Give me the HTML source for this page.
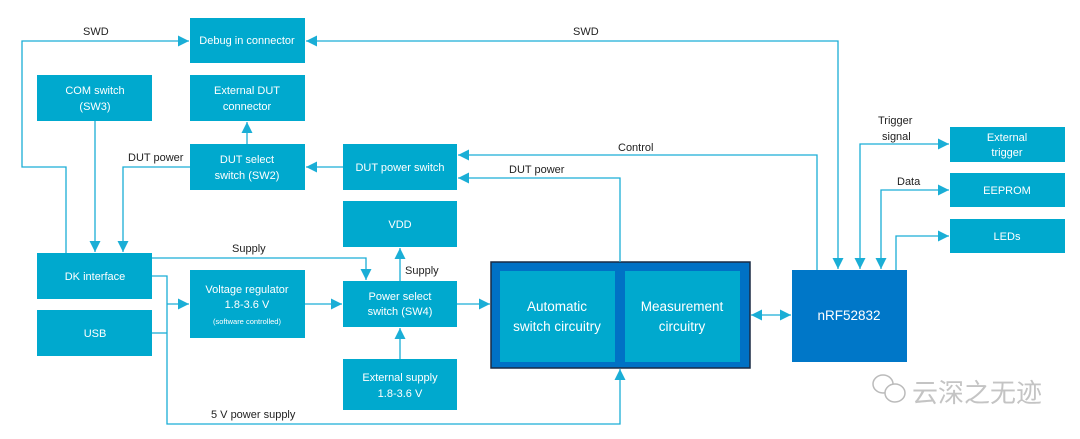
<!DOCTYPE html>
<html><head><meta charset="utf-8"><style>
html,body{margin:0;padding:0;background:#fff;width:1080px;height:439px;overflow:hidden}
svg{display:block}
text{font-family:"Liberation Sans","Noto Sans CJK SC",sans-serif}
.b{fill:#00a9ce}
.w{fill:#fff;font-size:11px;text-anchor:middle}
.k{fill:#222;font-size:11px}
.l{stroke:#1aaed6;stroke-width:1.3;fill:none}
.a{fill:#1aaed6}
</style></head><body>
<svg width="1080" height="439" viewBox="0 0 1080 439">
<defs>
<marker id="m" viewBox="0 0 10 10" refX="10" refY="5" markerWidth="11" markerHeight="11" markerUnits="userSpaceOnUse" orient="auto"><path d="M0,0L10,5L0,10z" class="a"/></marker>
<marker id="s" viewBox="0 0 10 10" refX="0" refY="5" markerWidth="11" markerHeight="11" markerUnits="userSpaceOnUse" orient="auto"><path d="M10,0L0,5L10,10z" class="a"/></marker>
</defs>
<rect class="b" x="190" y="18" width="115" height="45"/>
<text class="w" x="247" y="44">Debug in connector</text>
<rect class="b" x="37" y="75" width="115" height="46"/>
<text class="w" x="95" y="94">COM switch</text><text class="w" x="95" y="110">(SW3)</text>
<rect class="b" x="190" y="75" width="115" height="46"/>
<text class="w" x="247" y="94">External DUT</text><text class="w" x="247" y="110">connector</text>
<rect class="b" x="190" y="144" width="115" height="46"/>
<text class="w" x="247" y="163">DUT select</text><text class="w" x="247" y="179">switch (SW2)</text>
<rect class="b" x="343" y="144" width="114" height="46"/>
<text class="w" x="400" y="171">DUT power switch</text>
<rect class="b" x="343" y="201" width="114" height="46"/>
<text class="w" x="400" y="228">VDD</text>
<rect class="b" x="37" y="253" width="115" height="46"/>
<text class="w" x="95" y="280">DK interface</text>
<rect class="b" x="37" y="310" width="115" height="46"/>
<text class="w" x="95" y="337">USB</text>
<rect class="b" x="190" y="270" width="115" height="68"/>
<text class="w" x="247" y="293">Voltage regulator</text><text class="w" x="247" y="308">1.8-3.6 V</text>
<text class="w" x="247" y="324" style="font-size:7.5px">(software controlled)</text>
<rect class="b" x="343" y="281" width="114" height="46"/>
<text class="w" x="400" y="300">Power select</text><text class="w" x="400" y="315">switch (SW4)</text>
<rect class="b" x="343" y="359" width="114" height="51"/>
<text class="w" x="400" y="381">External supply</text><text class="w" x="400" y="397">1.8-3.6 V</text>
<rect x="491" y="262" width="259" height="106" fill="#0071c5" stroke="#1a2a44" stroke-width="1.5"/>
<rect class="b" x="500" y="271" width="115" height="91"/>
<rect class="b" x="625" y="271" width="115" height="91"/>
<text class="w" x="557" y="311" style="font-size:13.5px">Automatic</text><text class="w" x="557" y="331" style="font-size:13.5px">switch circuitry</text>
<text class="w" x="682" y="311" style="font-size:13.5px">Measurement</text><text class="w" x="682" y="331" style="font-size:13.5px">circuitry</text>
<rect x="792" y="270" width="115" height="92" fill="#0077c8"/>
<text class="w" x="849" y="320" style="font-size:13.5px">nRF52832</text>
<rect class="b" x="950" y="127" width="115" height="35"/>
<text class="w" x="1007" y="141">External</text><text class="w" x="1007" y="156">trigger</text>
<rect class="b" x="950" y="173" width="115" height="34"/>
<text class="w" x="1007" y="194">EEPROM</text>
<rect class="b" x="950" y="219" width="115" height="34"/>
<text class="w" x="1007" y="240">LEDs</text>
<path class="l" d="M66,253V167H22V41H189" marker-end="url(#m)" />
<path class="l" d="M95,121V252" marker-end="url(#m)"/>
<path class="l" d="M190,167H123V252" marker-end="url(#m)"/>
<path class="l" d="M247,144V122" marker-end="url(#m)"/>
<path class="l" d="M343,167H306" marker-end="url(#m)"/>
<path class="l" d="M306,41H838V269" marker-start="url(#s)" marker-end="url(#m)"/>
<path class="l" d="M817,270V155H458" marker-end="url(#m)"/>
<path class="l" d="M620,262V178H458" marker-end="url(#m)"/>
<path class="l" d="M860,269V144H949" marker-start="url(#s)" marker-end="url(#m)"/>
<path class="l" d="M881,269V190H949" marker-start="url(#s)" marker-end="url(#m)"/>
<path class="l" d="M896,270V236H949" marker-end="url(#m)"/>
<path class="l" d="M152,258H366V280" marker-end="url(#m)"/>
<path class="l" d="M152,276H167V424H620V369" marker-end="url(#m)"/>
<path class="l" d="M152,333H167"/>
<path class="l" d="M167,304H189" marker-end="url(#m)"/>
<path class="l" d="M305,304H342" marker-end="url(#m)"/>
<path class="l" d="M400,281V248" marker-end="url(#m)"/>
<path class="l" d="M400,359V328" marker-end="url(#m)"/>
<path class="l" d="M457,304H490" marker-end="url(#m)"/>
<path class="l" d="M751,315H791" marker-start="url(#s)" marker-end="url(#m)"/>
<text class="k" x="83" y="35">SWD</text>
<text class="k" x="573" y="35">SWD</text>
<text class="k" x="128" y="161">DUT power</text>
<text class="k" x="618" y="151">Control</text>
<text class="k" x="509" y="173">DUT power</text>
<text class="k" x="878" y="124">Trigger</text>
<text class="k" x="882" y="140">signal</text>
<text class="k" x="897" y="185">Data</text>
<text class="k" x="232" y="252">Supply</text>
<text class="k" x="405" y="274">Supply</text>
<text class="k" x="211" y="418">5 V power supply</text>
<g fill="none" stroke="#bbb" stroke-width="1.5"><ellipse cx="883" cy="384" rx="10" ry="9"/><ellipse cx="895" cy="393" rx="10" ry="9" fill="#fff"/></g>
<text x="912" y="402" style="font-size:26px;fill:#c4c4c4">云深之无迹</text>
</svg>
</body></html>
